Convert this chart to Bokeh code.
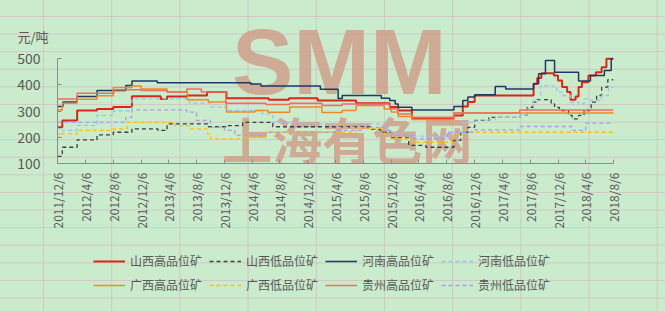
import math
import pandas as pd
from bokeh.plotting import figure
from bokeh.layouts import column
from bokeh.models import Range1d, FixedTicker, Legend, LegendItem, Label, ColumnDataSource
from bokeh.embed import file_html
from bokeh.resources import INLINE

# ---- data -------------------------------------------------------------
UNIT = "元/吨"
TICK_DATES = ["2011-12-06", "2012-04-06", "2012-08-06", "2012-12-06", "2013-04-06",
              "2013-08-06", "2013-12-06", "2014-04-06", "2014-08-06", "2014-12-06",
              "2015-04-06", "2015-08-06", "2015-12-06", "2016-04-06", "2016-08-06",
              "2016-12-06", "2017-04-06", "2017-08-06", "2017-12-06", "2018-04-06",
              "2018-08-06"]
TICK_LABELS = ["2011/12/6", "2012/4/6", "2012/8/6", "2012/12/6", "2013/4/6",
               "2013/8/6", "2013/12/6", "2014/4/6", "2014/8/6", "2014/12/6",
               "2015/4/6", "2015/8/6", "2015/12/6", "2016/4/6", "2016/8/6",
               "2016/12/6", "2017/4/6", "2017/8/6", "2017/12/6", "2018/4/6",
               "2018/8/6"]
Y_TICKS = [100, 200, 300, 400, 500]

# 山西高品位矿
shanxi_high_dates = ["2011-12-06", "2011-12-27", "2012-03-01", "2012-05-27", "2012-08-06",
                     "2012-10-27", "2013-03-02", "2013-03-30", "2013-06-24", "2013-09-21",
                     "2013-12-15", "2014-06-18", "2014-09-15", "2015-01-18", "2015-05-06",
                     "2015-07-06", "2015-11-30", "2016-01-06", "2016-03-06", "2016-09-06",
                     "2016-10-15", "2016-11-06", "2016-12-06", "2017-08-21", "2017-09-06",
                     "2017-09-24", "2017-11-18", "2017-12-06", "2017-12-24", "2018-01-15",
                     "2018-01-30", "2018-02-21", "2018-03-06", "2018-03-21", "2018-04-18",
                     "2018-05-21", "2018-06-15", "2018-07-06", "2018-08-06"]
shanxi_high_vals = [238, 264, 302, 308, 315, 356, 346, 355, 359, 372,
                    349, 343, 349, 340, 340, 330, 315, 302, 272, 283,
                    317, 334, 359, 404, 426, 444, 435, 416, 391, 372,
                    343, 355, 391, 410, 435, 448, 467, 499, 499]

# 山西低品位矿
shanxi_low_dates = ["2011-12-06", "2011-12-27", "2012-03-01", "2012-05-27", "2012-08-06",
                    "2012-10-27", "2013-02-18", "2013-03-30", "2013-09-27", "2013-12-12",
                    "2014-02-24", "2014-07-06", "2015-09-06", "2015-10-21", "2015-12-06",
                    "2016-02-21", "2016-05-06", "2016-09-06", "2016-10-06", "2016-11-06",
                    "2016-12-06", "2017-02-06", "2017-06-24", "2017-07-24", "2017-08-18",
                    "2017-09-06", "2017-11-06", "2017-11-21", "2017-12-12", "2018-01-21",
                    "2018-02-06", "2018-03-06", "2018-03-30", "2018-04-30", "2018-05-24",
                    "2018-06-15", "2018-07-12", "2018-08-06"]
shanxi_low_vals = [127, 162, 190, 209, 219, 232, 226, 251, 240, 244,
                   257, 240, 230, 219, 198, 169, 162, 188, 219, 238,
                   264, 276, 283, 314, 334, 343, 327, 314, 302, 283,
                   270, 283, 302, 334, 359, 391, 419, 419]

# 河南高品位矿
henan_high_dates = ["2011-12-06", "2011-12-30", "2012-03-01", "2012-05-27", "2012-09-30",
                    "2012-10-27", "2013-02-15", "2014-03-30", "2014-05-15", "2015-01-30",
                    "2015-04-18", "2015-05-06", "2015-10-24", "2015-11-30", "2015-12-24",
                    "2016-01-06", "2016-03-06", "2016-09-06", "2016-10-15", "2016-11-06",
                    "2016-12-06", "2017-03-06", "2017-04-21", "2017-08-21", "2017-09-12",
                    "2017-10-12", "2017-11-21", "2018-03-06", "2018-04-27", "2018-06-27",
                    "2018-07-27", "2018-08-06"]
henan_high_vals = [317, 334, 355, 378, 397, 414, 408, 403, 395, 383,
                   348, 359, 349, 340, 327, 314, 304, 317, 340, 353,
                   362, 393, 384, 404, 442, 492, 448, 414, 435, 454,
                   499, 499]

# 河南低品位矿
henan_low_dates = ["2011-12-06", "2011-12-30", "2012-03-01", "2012-05-27", "2012-08-06",
                   "2012-10-27", "2013-05-06", "2013-07-06", "2013-10-06", "2013-12-15",
                   "2014-05-21", "2014-07-06", "2014-11-06", "2015-04-06", "2015-08-06",
                   "2015-11-06", "2015-12-06", "2016-03-06", "2016-09-06", "2016-10-15",
                   "2016-12-06", "2017-03-06", "2017-06-24", "2017-07-24", "2017-08-21",
                   "2017-09-21", "2017-11-15", "2017-11-30", "2017-12-24", "2018-01-30",
                   "2018-03-06", "2018-03-30", "2018-04-15", "2018-06-15", "2018-07-15",
                   "2018-08-06"]
henan_low_vals = [213, 226, 245, 283, 300, 346, 346, 330, 315, 302,
                  289, 257, 250, 238, 250, 230, 213, 204, 219, 257,
                  266, 276, 283, 308, 340, 397, 391, 372, 359, 334,
                  327, 346, 340, 359, 391, 391]

# 广西高品位矿
guangxi_high_dates = ["2011-12-06", "2011-12-27", "2012-03-01", "2012-05-27", "2012-08-06",
                      "2012-10-27", "2012-12-06", "2013-03-30", "2013-06-27", "2013-09-27",
                      "2013-12-15", "2014-04-18", "2014-06-15", "2014-09-18", "2015-02-06",
                      "2015-05-06", "2015-07-06", "2015-11-06", "2015-12-06", "2016-01-06",
                      "2016-03-06", "2016-09-06", "2018-08-06"]
guangxi_high_vals = [304, 330, 345, 358, 390, 395, 384, 372, 343, 334,
                     296, 302, 295, 315, 294, 302, 321, 308, 296, 279,
                     268, 292, 296]

# 广西低品位矿
guangxi_low_dates = ["2011-12-06", "2011-12-27", "2012-03-01", "2012-08-06", "2012-10-06",
                     "2013-04-30", "2013-07-06", "2013-09-21", "2013-10-06", "2014-03-06",
                     "2014-06-06", "2015-07-06", "2015-11-06", "2015-12-06", "2016-03-06",
                     "2016-09-06", "2016-10-21", "2018-08-06"]
guangxi_low_vals = [200, 213, 226, 232, 257, 244, 232, 213, 194, 200,
                    219, 232, 213, 194, 181, 213, 219, 219]

# 贵州高品位矿
guizhou_high_dates = ["2011-12-06", "2012-03-01", "2012-08-09", "2012-12-06", "2013-03-30",
                      "2013-06-24", "2013-08-27", "2013-12-12", "2014-06-06", "2014-09-18",
                      "2015-02-06", "2015-05-06", "2015-11-30", "2016-01-06", "2016-03-06",
                      "2016-09-06", "2017-06-21", "2018-08-06"]
guizhou_high_vals = [346, 368, 381, 378, 372, 384, 372, 330, 325, 330,
                     321, 327, 308, 289, 276, 292, 304, 304]

# 贵州低品位矿
guizhou_low_dates = ["2011-12-06", "2012-09-30", "2012-10-27", "2013-06-24", "2013-08-06",
                     "2013-10-06", "2013-12-06", "2014-01-21", "2014-06-06", "2015-04-06",
                     "2015-08-06", "2015-11-06", "2015-12-06", "2016-03-06", "2016-08-06",
                     "2016-12-06", "2017-06-24", "2018-02-06", "2018-04-06", "2018-08-06"]
guizhou_low_vals = [257, 276, 304, 296, 264, 238, 226, 207, 219, 226,
                    238, 226, 207, 194, 219, 228, 241, 226, 254, 254]

SERIES = [
    ("山西高品位矿", shanxi_high_dates, shanxi_high_vals, "#d8261b", 2.0, "solid"),
    ("山西低品位矿", shanxi_low_dates, shanxi_low_vals, "#3f3f3f", 1.3, "4 3"),
    ("河南高品位矿", henan_high_dates, henan_high_vals, "#1f3864", 1.5, "solid"),
    ("河南低品位矿", henan_low_dates, henan_low_vals, "#9cc3e8", 1.3, "4 3"),
    ("广西高品位矿", guangxi_high_dates, guangxi_high_vals, "#f08a24", 1.5, "solid"),
    ("广西低品位矿", guangxi_low_dates, guangxi_low_vals, "#ffc000", 1.3, "4 3"),
    ("贵州高品位矿", guizhou_high_dates, guizhou_high_vals, "#ec6f66", 1.5, "solid"),
    ("贵州低品位矿", guizhou_low_dates, guizhou_low_vals, "#aa9ee6", 1.3, "4 3"),
]

FONT = "Noto Sans CJK SC"
TEXT_GREY = "#595959"
AXIS_GREY = "#8c8c8c"
GRID_RULE = "rgba(214,170,186,0.55)"
PAGE_GREEN = "#cbebcd"


def ms(d):
    return float(pd.Timestamp(d).value // 10**6)


def sheet_style(y_offset):
    # pale green cells with pinkish rules, like a worksheet
    return {
        "background-color": PAGE_GREEN,
        "background-image": (f"linear-gradient(to right, {GRID_RULE} 1px, transparent 1px),"
                             f"linear-gradient(to bottom, {GRID_RULE} 1px, transparent 1px)"),
        "background-size": "68.2px 100%, 100% 17.6px",
        "background-position": f"43px 0, 0 {y_offset}px",
    }


# ---- layout geometry (pixels) ----------------------------------------
MAIN_H = 245          # chart strip; the legend strip fills the rest
AXIS_TOP_PX = 58      # where the 500 tick sits
AXIS_BOTTOM_PX = 163  # where the 100 tick sits (x axis)
FRAME_TOP_PX = 18     # frame reaches higher so the watermark is not cut
units_per_px = (Y_TICKS[-1] - Y_TICKS[0]) / (AXIS_BOTTOM_PX - AXIS_TOP_PX)
y_end = Y_TICKS[-1] + (AXIS_TOP_PX - FRAME_TOP_PX) * units_per_px

p = figure(width=665, height=MAIN_H, x_axis_type="datetime",
           x_range=Range1d(ms(TICK_DATES[0]), ms(TICK_DATES[-1])),
           y_range=Range1d(Y_TICKS[0], y_end),
           output_backend="svg", toolbar_location=None,
           min_border_left=57, min_border_right=52,
           min_border_top=FRAME_TOP_PX, min_border_bottom=MAIN_H - AXIS_BOTTOM_PX)
p.background_fill_color = None
p.border_fill_color = None
p.outline_line_color = None
p.xgrid.visible = False
p.ygrid.visible = False
p.styles = sheet_style(16)

# unit caption at the top-left
p.title.text = UNIT
p.title.align = "left"
p.title.offset = -40
p.title.standoff = -54
p.title.text_font = FONT
p.title.text_font_size = "13px"
p.title.text_font_style = "normal"
p.title.text_color = TEXT_GREY

# watermark
wm_color = "#cfa08b"
p.add_layout(Label(x=ms("2014-01-08"), y=486, text="SMM",
                   text_font="Liberation Sans", text_font_style="bold",
                   text_font_size="92px", text_color=wm_color, text_alpha=0.85,
                   text_baseline="middle", level="underlay"))
p.add_layout(Label(x=ms("2013-11-27"), y=196, text="上海有色网",
                   text_font=FONT, text_font_style="bold",
                   text_font_size="50px", text_color=wm_color, text_alpha=0.85,
                   text_baseline="middle", level="underlay"))

# axes
xa = p.xaxis[0]
xa.ticker = FixedTicker(ticks=[ms(d) for d in TICK_DATES])
xa.major_label_overrides = {ms(d): lab for d, lab in zip(TICK_DATES, TICK_LABELS)}
xa.major_label_orientation = math.pi / 2
ya = p.yaxis[0]
ya.ticker = FixedTicker(ticks=Y_TICKS)
ya.bounds = (Y_TICKS[0], Y_TICKS[-1])
for ax in (xa, ya):
    ax.axis_line_color = AXIS_GREY
    ax.major_tick_line_color = AXIS_GREY
    ax.major_tick_in = 4
    ax.major_tick_out = 0
    ax.minor_tick_line_color = None
    ax.major_label_text_font = FONT
    ax.major_label_text_color = TEXT_GREY
xa.major_label_text_font_size = "12px"
xa.major_label_standoff = 9
ya.major_label_text_font_size = "14px"
ya.major_label_standoff = 17

# series
for name, dates, vals, color, lw, dash in SERIES:
    src = ColumnDataSource(dict(x=[ms(d) for d in dates], y=vals))
    p.step(x="x", y="y", source=src, mode="after", line_color=color,
           line_width=lw, line_dash=dash)

# legend strip below the chart
LEG_H = 311 - MAIN_H
lg = figure(width=665, height=LEG_H, output_backend="svg", toolbar_location=None,
            x_range=Range1d(0, 1), y_range=Range1d(0, 1), min_border=0)
lg.background_fill_color = None
lg.border_fill_color = None
lg.outline_line_color = None
lg.axis.visible = False
lg.xgrid.visible = False
lg.ygrid.visible = False
lg.styles = sheet_style(round((16 - MAIN_H) % 17.6, 1))

items = []
for name, dates, vals, color, lw, dash in SERIES:
    # swatch-only renderers: their points sit outside the strip's ranges
    r = lg.line(x=[2, 3], y=[2, 3], line_color=color, line_width=lw, line_dash=dash)
    items.append(LegendItem(label=name, renderers=[r]))

legend = Legend(items=items, orientation="horizontal", ncols=4,
                location=(36, 18), border_line_color=None,
                background_fill_alpha=0, label_text_font=FONT,
                label_text_font_size="12px", label_text_color=TEXT_GREY,
                glyph_width=32, glyph_height=12, label_standoff=5,
                label_height=16, spacing=7, padding=0, margin=0)
lg.add_layout(legend, "center")

page = column(p, lg, spacing=0)
open("out.html", "w").write(file_html(page, INLINE))
